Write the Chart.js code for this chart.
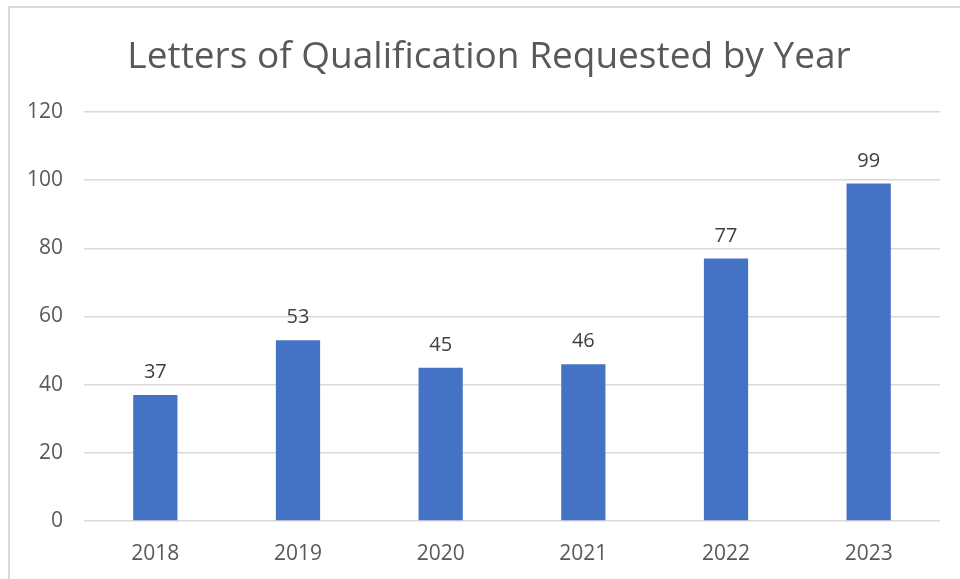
<!DOCTYPE html>
<html>
<head>
<meta charset="utf-8">
<script src="https://cdn.jsdelivr.net/npm/chart.js@4.4.0/dist/chart.umd.min.js"></script>
<style>
  html, body { margin: 0; padding: 0; background: #fff; }
  #wrap { position: relative; width: 960px; height: 579px; }
  #frame { position: absolute; left: 8px; top: 6px; width: 1000px; height: 1000px; border-left: 2px solid #d9d9d9; border-top: 2px solid #d9d9d9; pointer-events: none; }
  canvas { position: absolute; left: 0; top: 0; }
</style>
</head>
<body>
<div id="wrap">
  <canvas id="c" width="960" height="579"></canvas>
  <div id="frame"></div>
</div>
<script>
const chartTitle = "Letters of Qualification Requested by Year";
const years = ["2018", "2019", "2020", "2021", "2022", "2023"];
const requested = [37, 53, 45, 46, 77, 99];
const yTicks = [0, 20, 40, 60, 80, 100, 120];

const FONT = "'Open Sans', 'Noto Sans', sans-serif";

const valueLabels = {
  id: 'valueLabels',
  afterDatasetsDraw(chart) {
    const ctx = chart.ctx;
    const meta = chart.getDatasetMeta(0);
    ctx.save();
    ctx.font = "20px " + FONT;
    ctx.fillStyle = "#404040";
    ctx.textAlign = "center";
    ctx.textBaseline = "alphabetic";
    meta.data.forEach((bar, i) => {
      ctx.fillText(String(chart.data.datasets[0].data[i]), bar.x, bar.y - 17);
    });
    ctx.restore();
  }
};

new Chart(document.getElementById('c'), {
  type: 'bar',
  data: {
    labels: years,
    datasets: [{
      data: requested,
      backgroundColor: '#4472C4',
      borderWidth: 0,
      categoryPercentage: 1,
      barPercentage: 0.31
    }]
  },
  options: {
    responsive: false,
    animation: false,
    events: [],
    layout: { padding: { left: 38, right: 20, top: 0, bottom: 0 } },
    plugins: {
      legend: { display: false },
      tooltip: { enabled: false },
      title: {
        display: true,
        text: chartTitle,
        color: '#595959',
        font: { family: FONT, size: 37, weight: 'normal', lineHeight: 1.2 },
        padding: { top: 35, bottom: 32.6 }
      }
    },
    scales: {
      x: {
        grid: { display: false, drawTicks: false },
        border: { display: false },
        ticks: { color: '#595959', font: { family: FONT, size: 21 }, padding: 20 },
        afterFit(scale) { scale.height = 58; }
      },
      y: {
        min: 0,
        max: 120,
        afterBuildTicks(scale) { scale.ticks = yTicks.map(v => ({ value: v })); },
        grid: { color: '#d9d9d9', lineWidth: 1.5, drawTicks: false },
        border: { display: false },
        ticks: { color: '#595959', font: { family: FONT, size: 21 }, padding: 21 },
        afterFit(scale) {
          scale.width = 46;
          scale._computeLabelArea = () => undefined;
        }
      }
    }
  },
  plugins: [valueLabels]
});
</script>
</body>
</html>
